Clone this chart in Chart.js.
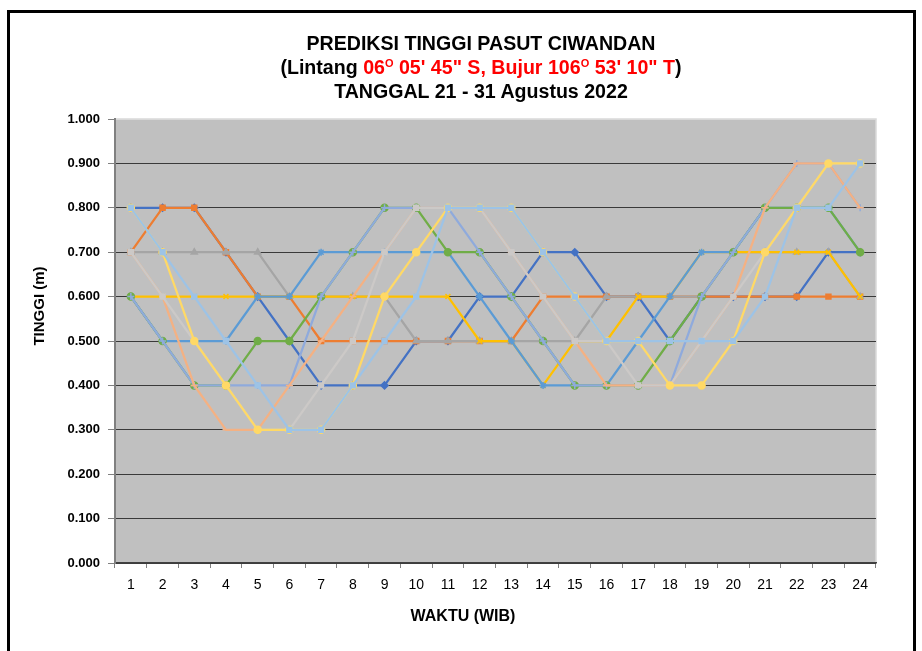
<!DOCTYPE html>
<html>
<head>
<meta charset="utf-8">
<script src="https://cdn.jsdelivr.net/npm/chart.js@4.4.1/dist/chart.umd.min.js"></script>
<style>
  body { margin:0; background:#fff; }
  #wrap { position:relative; width:922px; height:651px; overflow:hidden; font-family:'Liberation Sans', Arial, sans-serif; }
  #frame { position:absolute; left:7px; top:10px; width:903px; height:700px; border:3px solid #000; pointer-events:none; }
  #title { position:absolute; left:231px; top:31px; width:500px; text-align:center; font-weight:bold; font-size:19.6px; line-height:24px; color:#000; }
  #title .red { color:#ff0000; }
  #title sup { font-size:11px; line-height:0; vertical-align:7px; }
  canvas { position:absolute; left:0; top:0; }
</style>
</head>
<body>
<div id="wrap">
  <canvas id="myChart" width="922" height="651"></canvas>
  <div id="title">
    PREDIKSI TINGGI PASUT CIWANDAN<br>
    (Lintang <span class="red">06<sup>O</sup> 05' 45" S, Bujur 106<sup>O</sup> 53' 10" T</span>)<br>
    TANGGAL 21 - 31 Agustus 2022
  </div>
  <div id="frame"></div>
</div>
<script>
const jam = ['1','2','3','4','5','6','7','8','9','10','11','12','13','14','15','16','17','18','19','20','21','22','23','24'];
const tinggiTicks = [0,0.1,0.2,0.3,0.4,0.5,0.6,0.7,0.8,0.9,1.0];

const tgl21 = [0.8,0.8,0.8,0.7,0.6,0.5,0.4,0.4,0.4,0.5,0.5,0.6,0.6,0.7,0.7,0.6,0.6,0.5,0.6,0.6,0.6,0.6,0.7,0.7];
const tgl22 = [0.7,0.8,0.8,0.7,0.6,0.6,0.5,0.5,0.5,0.5,0.5,0.5,0.5,0.6,0.6,0.6,0.6,0.6,0.6,0.6,0.6,0.6,0.6,0.6];
const tgl23 = [0.7,0.7,0.7,0.7,0.7,0.6,0.6,0.6,0.6,0.5,0.5,0.5,0.5,0.5,0.5,0.6,0.6,0.6,0.6,0.7,0.7,0.7,0.7,0.6];
const tgl24 = [0.6,0.6,0.6,0.6,0.6,0.6,0.6,0.6,0.6,0.6,0.6,0.5,0.5,0.4,0.5,0.5,0.6,0.6,0.7,0.7,0.7,0.7,0.7,0.6];
const tgl25 = [0.6,0.5,0.5,0.5,0.6,0.6,0.7,0.7,0.7,0.7,0.7,0.6,0.5,0.4,0.4,0.4,0.5,0.6,0.7,0.7,0.8,0.8,0.8,0.7];
const tgl26 = [0.6,0.5,0.4,0.4,0.5,0.5,0.6,0.7,0.8,0.8,0.7,0.7,0.6,0.5,0.4,0.4,0.4,0.5,0.6,0.7,0.8,0.8,0.8,0.7];
const tgl27 = [0.6,0.5,0.4,0.4,0.4,0.4,0.6,0.7,0.8,0.8,0.8,0.7,0.6,0.5,0.4,0.4,0.4,0.4,0.6,0.7,0.8,0.9,0.9,0.8];
const tgl28 = [0.7,0.6,0.4,0.3,0.3,0.4,0.5,0.6,0.7,0.8,0.8,0.8,0.7,0.6,0.5,0.4,0.4,0.4,0.5,0.6,0.8,0.9,0.9,0.8];
const tgl29 = [0.7,0.6,0.5,0.4,0.3,0.3,0.4,0.5,0.7,0.8,0.8,0.8,0.7,0.6,0.5,0.5,0.4,0.4,0.5,0.6,0.7,0.8,0.9,0.9];
const tgl30 = [0.8,0.7,0.5,0.4,0.3,0.3,0.3,0.4,0.6,0.7,0.8,0.8,0.8,0.7,0.6,0.5,0.5,0.4,0.4,0.5,0.7,0.8,0.9,0.9];
const tgl31 = [0.8,0.7,0.6,0.5,0.4,0.3,0.3,0.4,0.5,0.6,0.8,0.8,0.8,0.7,0.6,0.5,0.5,0.5,0.5,0.5,0.6,0.8,0.8,0.9];

const seriesNames = ['21','22','23','24','25','26','27','28','29','30','31'];
const seriesData = [tgl21,tgl22,tgl23,tgl24,tgl25,tgl26,tgl27,tgl28,tgl29,tgl30,tgl31];
const seriesColors = ['#4472C4','#ED7D31','#A5A5A5','#FFC000','#5B9BD5','#70AD47','#8FAADC','#F4B183','#CCC9C7','#FFD966','#9DC3E6'];
const seriesMarkers = ['rectRot','rect','triangle','crossRot','star','circle','cross','line','rect','circle','rect'];

const datasets = [];
for (let i=0;i<seriesData.length;i++){
    datasets.push({
        label: seriesNames[i],
        data: seriesData[i],
        borderColor: seriesColors[i],
        backgroundColor: seriesColors[i],
        borderWidth: 2.25,
        pointStyle: seriesMarkers[i],
        pointRadius: 3.5,
        pointBorderWidth: 1.5,
        tension: 0,
        order: seriesData.length - i   // later days drawn on top, like Excel
    });
}

// grey plot area + light border
const plotBg = {
    id:'plotBg',
    beforeDraw(chart){
        const a = chart.chartArea, c = chart.ctx;
        c.save();
        c.fillStyle = '#C0C0C0';
        c.fillRect(a.left, a.top, a.right-a.left, a.bottom-a.top);
        c.strokeStyle = '#D9D9D9';
        c.lineWidth = 1.5;
        c.beginPath();
        c.moveTo(a.left, a.top); c.lineTo(a.right, a.top); c.lineTo(a.right, a.bottom);
        c.stroke();
        c.restore();
    }
};

// axis titles placed like the Excel original
const axisTitles = {
    id:'axisTitles',
    afterDraw(chart){
        const c = chart.ctx;
        c.save();
        c.fillStyle = '#000';
        c.font = 'bold 16px "Liberation Sans", Arial, sans-serif';
        c.textAlign = 'center';
        c.textBaseline = 'middle';
        c.fillText('WAKTU (WIB)', 463, 617);
        c.font = 'bold 15px "Liberation Sans", Arial, sans-serif';
        c.translate(40, 306);
        c.rotate(-Math.PI/2);
        c.fillText('TINGGI (m)', 0, 0);
        c.restore();
    }
};

const ctx = document.getElementById('myChart').getContext('2d');
const pasutChart = new Chart(ctx,{
    type:'line',
    data:{
        labels: jam,
        datasets: datasets
    },
    options:{
        responsive:false,
        animation:false,
        layout:{ padding:{ left:0, right:46, top:119, bottom:0 } },
        scales:{
            x:{
                offset:true,
                grid:{ offset:true, drawOnChartArea:false, tickLength:5, color:'#808080' },
                border:{ color:'#404040', width:1.5 },
                ticks:{ color:'#000', padding:9, maxRotation:0, autoSkip:false,
                        font:{ family:'"Liberation Sans", Arial, sans-serif', size:14 } },
                afterFit(scale){ scale.height = 88; }
            },
            y:{
                min:0,
                max:1,
                afterBuildTicks(scale){ scale.ticks = tinggiTicks.map(v => ({value:v})); },
                grid:{
                    color:(c) => c.tick && c.tick.value >= 0.999 ? '#D9D9D9' : '#3A3A3A',
                    lineWidth:1,
                    tickLength:7,
                    tickColor:'#808080'
                },
                border:{ color:'#808080', width:2 },
                ticks:{
                    color:'#000',
                    padding:8,
                    callback:(v) => Number(v).toFixed(3),
                    font:{ family:'"Liberation Sans", Arial, sans-serif', size:13, weight:'bold' }
                },
                afterFit(scale){ scale.width = 115; }
            }
        },
        plugins:{
            legend:{ display:false },
            title:{ display:false },
            tooltip:{ enabled:false }
        }
    },
    plugins:[plotBg, axisTitles]
});
</script>
</body>
</html>
